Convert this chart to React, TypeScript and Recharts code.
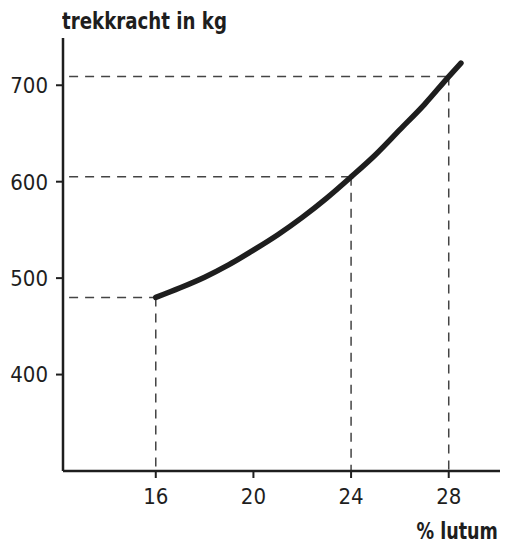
import { LineChart, Line, XAxis, YAxis, ReferenceLine } from 'recharts';

// % lutum against trekkracht (kg)
const lutum = [16, 17, 18, 19, 20, 21, 22, 23, 24, 25, 26, 27, 28, 28.5];
const trekkracht = [480, 490, 501, 514, 529, 545, 563, 583, 605, 628, 654, 680, 709, 723];

// dashed read-off lines
const guideX = [16, 24, 28];
const guideY = [480, 605, 709];

const xTicks = [16, 20, 24, 28];
const yTicks = [400, 500, 600, 700];

const xMin = 12.2;
const xMax = 30.1;
const yMin = 300;
const yMax = 749;

const font = '"Liberation Sans Narrow", "DejaVu Sans Condensed", Arial, sans-serif';
const ink = '#1e1e1e';

const data = lutum.map((x, i) => ({ x, y: trekkracht[i] }));

function App() {
  return (
    <div style={{ position: 'absolute', left: 0, top: 0, width: 505, height: 544, background: '#fff' }}>
      <div
        style={{
          position: 'absolute',
          left: 62,
          top: 8,
          fontFamily: font,
          fontWeight: 'bold',
          fontSize: 23,
          color: ink,
          whiteSpace: 'nowrap',
          transform: 'scaleX(0.88)',
          transformOrigin: 'left top',
        }}
      >
        trekkracht in kg
      </div>
      <div
        style={{
          position: 'absolute',
          right: 7,
          top: 518,
          fontFamily: font,
          fontWeight: 'bold',
          fontSize: 23,
          color: ink,
          whiteSpace: 'nowrap',
          transform: 'scaleX(0.85)',
          transformOrigin: 'right top',
        }}
      >
        % lutum
      </div>
      <LineChart
        width={505}
        height={544}
        data={data}
        margin={{ top: 38, right: 5, bottom: 0, left: 0 }}
      >
        <XAxis
          dataKey="x"
          type="number"
          domain={[xMin, xMax]}
          ticks={xTicks}
          allowDataOverflow
          height={73}
          axisLine={{ stroke: ink, strokeWidth: 2.5 }}
          tickLine={{ stroke: ink, strokeWidth: 2 }}
          tickSize={7}
          tickMargin={10}
          tick={{ fill: ink, fontSize: 22, fontFamily: font }}
        />
        <YAxis
          type="number"
          domain={[yMin, yMax]}
          ticks={yTicks}
          allowDataOverflow
          width={63}
          axisLine={{ stroke: ink, strokeWidth: 2.5 }}
          tickLine={{ stroke: ink, strokeWidth: 2 }}
          tickSize={7}
          tickMargin={8}
          tick={{ fill: ink, fontSize: 22, fontFamily: font }}
        />
        {guideX.map((gx, i) => (
          <ReferenceLine
            key={'h' + i}
            segment={[
              { x: xMin + 0.25, y: guideY[i] },
              { x: gx, y: guideY[i] },
            ]}
            stroke="#444"
            strokeWidth={1.5}
            strokeDasharray="9 7"
          />
        ))}
        {guideX.map((gx, i) => (
          <ReferenceLine
            key={'v' + i}
            segment={[
              { x: gx, y: guideY[i] },
              { x: gx, y: yMin },
            ]}
            stroke="#444"
            strokeWidth={1.5}
            strokeDasharray="9 7"
          />
        ))}
        <Line
          type="monotone"
          dataKey="y"
          stroke={ink}
          strokeWidth={5.5}
          strokeLinecap="round"
          dot={false}
          activeDot={false}
          isAnimationActive={false}
        />
      </LineChart>
    </div>
  );
}

export default App;
